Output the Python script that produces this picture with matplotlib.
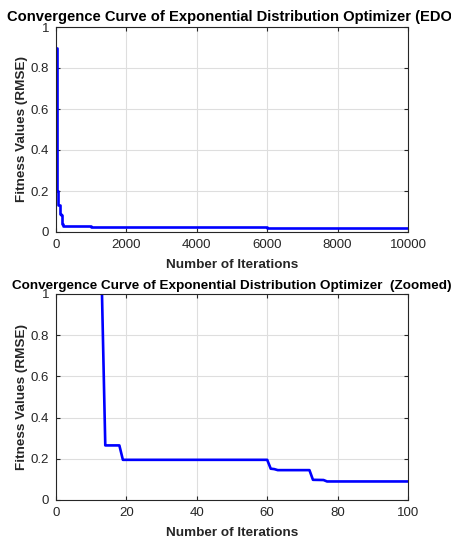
import matplotlib
matplotlib.use("Agg")
import matplotlib.pyplot as plt

# full run: best fitness at the iterations where it changed
full_iter = [1, 15, 25, 40, 55, 70, 110, 150, 170, 200, 400, 1000, 3000, 6000, 10000]
full_rmse = [0.90, 0.28, 0.25, 0.20, 0.14, 0.13, 0.09, 0.085, 0.04, 0.03, 0.027, 0.025, 0.022, 0.021, 0.020]

# first 100 iterations
zoom_iter = [1, 13, 14, 18, 19, 60, 61, 62, 63, 72, 73, 76, 77, 100]
zoom_rmse = [1.60, 1.05, 0.265, 0.265, 0.195, 0.195, 0.152, 0.150, 0.145, 0.145, 0.098, 0.097, 0.090, 0.090]

plt.rcParams['font.family'] = ['Liberation Sans', 'DejaVu Sans']
TXT = '#262626'

fig = plt.figure(figsize=(4.52, 5.42), dpi=100)
W, H = 452, 542

def make_ax(top, bottom):
    ax = fig.add_axes([56 / W, 1 - bottom / H, (408 - 56) / W, (bottom - top) / H])
    ax.grid(True, color='#dedede', linewidth=0.8)
    ax.set_axisbelow(True)
    ax.tick_params(direction='in', top=True, right=True, length=3, labelsize=9.5,
                   colors=TXT, labelcolor=TXT, pad=5)
    for s in ax.spines.values():
        s.set_color(TXT)
        s.set_linewidth(0.8)
    ax.set_ylabel('Fitness Values (RMSE)', fontsize=9.7, fontweight='bold', color=TXT, labelpad=2)
    ax.set_xlabel('Number of Iterations', fontsize=9.7, fontweight='bold', color=TXT, labelpad=6)
    return ax

ax1 = make_ax(27, 232)
ax1.plot(full_iter, full_rmse, color='#0000ff', linewidth=1.9, drawstyle='steps-post')
ax1.set_xlim(0, 10000)
ax1.set_ylim(0, 1)
ax1.set_xticks([0, 2000, 4000, 6000, 8000, 10000])
ax1.set_yticks([0, 0.2, 0.4, 0.6, 0.8, 1])
ax1.set_yticklabels(['0', '0.2', '0.4', '0.6', '0.8', '1'])
ax1.set_title('Convergence Curve of Exponential Distribution Optimizer (EDO)',
              fontsize=10.6, fontweight='bold', color='black', pad=4.5)

ax2 = make_ax(294, 500)
ax2.plot(zoom_iter, zoom_rmse, color='#0000ff', linewidth=1.9)
ax2.set_xlim(0, 100)
ax2.set_ylim(0, 1)
ax2.set_xticks([0, 20, 40, 60, 80, 100])
ax2.set_yticks([0, 0.2, 0.4, 0.6, 0.8, 1])
ax2.set_yticklabels(['0', '0.2', '0.4', '0.6', '0.8', '1'])
ax2.set_title('Convergence Curve of Exponential Distribution Optimizer  (Zoomed)',
              fontsize=9.7, fontweight='bold', color='black', pad=3.5)

fig.savefig('out.png', dpi=100)
